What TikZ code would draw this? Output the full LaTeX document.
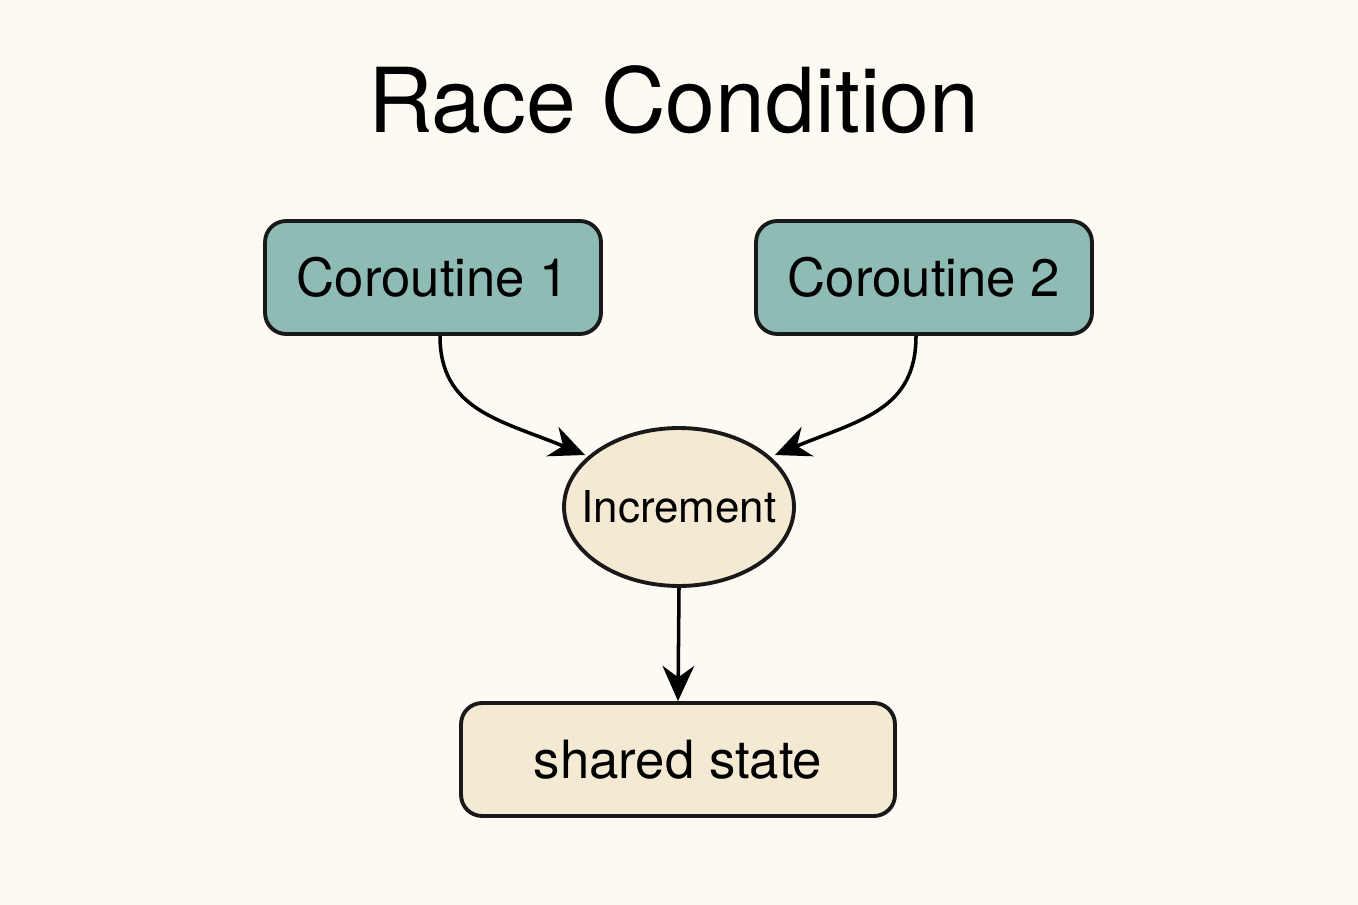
\documentclass[tikz,border=0pt]{standalone}
\usepackage{fontspec}
\setmainfont{TeX Gyre Heros}
\usetikzlibrary{shapes.geometric,arrows.meta}
\definecolor{bg}{HTML}{FCFAF2}
\definecolor{teal}{HTML}{8FBBB5}
\definecolor{beige}{HTML}{F4EAD3}
\tikzset{
 box/.style={draw=black!90,line width=2.2pt,rounded corners=12pt,inner sep=0pt},
 conn/.style={line width=2pt,-{Stealth[length=20pt,width=18pt]}}
}
\begin{document}
\begin{tikzpicture}[x=0.02cm,y=-0.02cm]
\fill[bg] (0,0) rectangle (1358,905);
\useasboundingbox (0,0) rectangle (1358,905);
\node (title) at (674,100) {\fontsize{51}{60}\selectfont Race Condition};
\node[box,fill=teal,minimum width=6.72cm,minimum height=2.26cm] (c1) at (433,277.5) {\fontsize{30}{36}\selectfont Coroutine 1};
\node[box,fill=teal,minimum width=6.72cm,minimum height=2.26cm] (c2) at (924,277.5) {\fontsize{30}{36}\selectfont Coroutine 2};
\node[draw=black!90,line width=2.2pt,ellipse,fill=beige,minimum width=4.6cm,minimum height=3.16cm,inner sep=0pt] (inc) at (679,507) {\makebox[0pt]{\fontsize{25}{30}\selectfont Increment}};
\node[box,fill=beige,minimum width=8.68cm,minimum height=2.26cm] (ss) at (678,759.5) {\fontsize{30}{36}\selectfont shared state};
\draw[conn] (c1.south -| 440,0) .. controls (440,410) and (500,420) .. (585,455);
\draw[conn] (c2.south -| 916,0) .. controls (916,410) and (860,420) .. (775,455);
\draw[conn] (inc.south) -- (ss.north);
\end{tikzpicture}
\end{document}
